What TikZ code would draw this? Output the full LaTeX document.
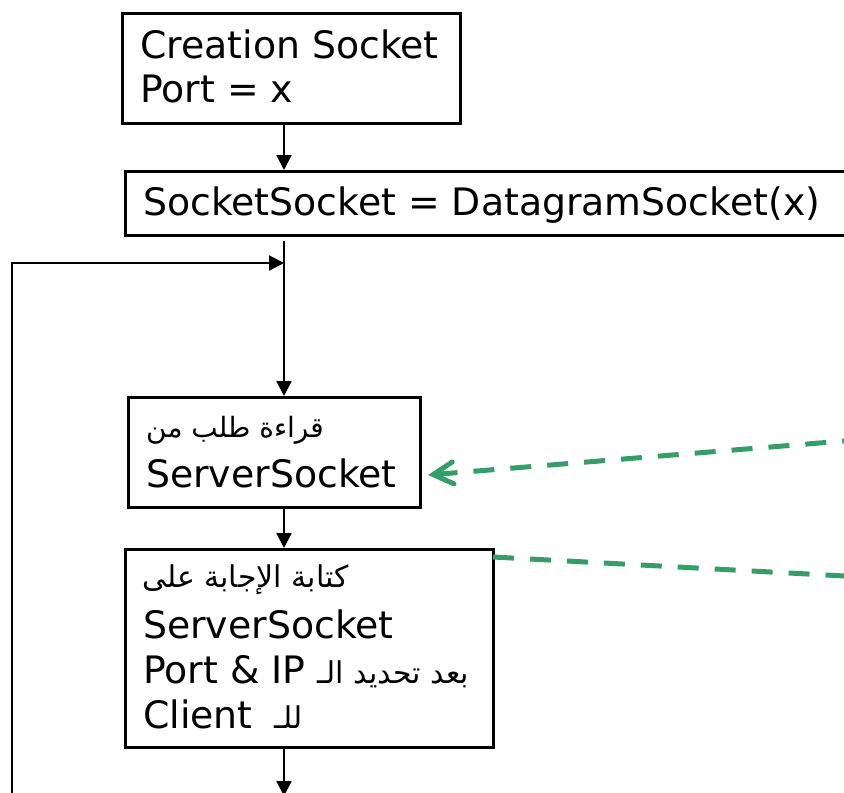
\documentclass[tikz,border=0pt]{standalone}
\usepackage{fontspec}
\setmainfont{DejaVu Sans}
\newfontfamily\arabicfont[Script=Arabic]{DejaVu Sans}
\TeXXeTstate=1
\usetikzlibrary{arrows.meta}
\definecolor{flowgreen}{RGB}{52,158,104}
\newcommand{\latinsize}{\fontsize{37.8}{44}\selectfont}
\newcommand{\arsize}{\fontsize{28}{32}\selectfont}
\newcommand{\arbigsize}{\fontsize{30}{34}\selectfont}
\tikzset{
  stepbox/.style={draw, line width=2.5pt, inner sep=0pt, anchor=north west},
  lbl/.style={anchor=base west, inner sep=0pt, font=\latinsize},
  arlbl/.style={anchor=base west, inner sep=0pt, font=\arsize\arabicfont},
  flow/.style={line width=2.2pt, -{Triangle[length=15pt,width=15pt]}},
  msg/.style={draw=flowgreen, line width=5pt, dash pattern=on 21pt off 16pt},
}
\begin{document}
\begin{tikzpicture}[x=1pt,y=-1pt]
\useasboundingbox (0,0) rectangle (844,793);
\clip (0,0) rectangle (844,793);

% boxes
\node[stepbox, minimum width=338pt, minimum height=110pt] (create) at (121,12) {};
\node[stepbox, minimum width=796pt, minimum height=64pt]  (sock)   at (124,170) {};
\node[stepbox, minimum width=292pt, minimum height=110pt] (read)   at (127,396) {};
\node[stepbox, minimum width=368pt, minimum height=198pt] (reply)  at (124,548) {};

% box texts
\node[lbl] (createa) at (140,58)  {Creation Socket};
\node[lbl] (createb) at (140,102) {Port = x};
\node[lbl] (socka)   at (143,215) {SocketSocket = DatagramSocket(x)};
\node[arlbl] (reada) at (146,437) {\beginR قراءة طلب من\endR};
\node[lbl] (readb)   at (146,487) {ServerSocket};
\node[arlbl, font=\arbigsize\arabicfont] (replya) at (142,587)
  {\beginR كتابة الإجابة على\endR};
\node[lbl] (replyb)  at (143,638) {ServerSocket};
\node[lbl] (replyc)  at (143,683) {Port \& IP {\arbigsize\arabicfont\beginR بعد تحديد الـ\endR}};
\node[lbl] (replyd)  at (143,728) {Client\hspace{22pt}{\arbigsize\arabicfont\beginR للـ\endR}};

% main flow
\coordinate (spine) at (284,0);
\coordinate (loopin) at (284,263);
\coordinate (loopbot) at (12,800);
\coordinate (exit) at (284,796);
\draw[flow] (create.south -| spine) -- (sock.north -| spine);
\draw[flow] ([yshift=-4pt]sock.south -| spine) -- (read.north -| spine);
\draw[flow] (read.south -| spine) -- (reply.north -| spine);
\draw[flow] (reply.south -| spine) -- (exit);
\draw[flow] (loopbot) |- (loopin);

% datagram exchange
\coordinate (reqsrc) at (900,436.4);
\coordinate (reqtip) at (428,475);
\coordinate (repout) at (493,557);
\coordinate (repdst) at (900,579);
\draw[msg, -{Straight Barb[length=20pt,width=22pt,line cap=round]}] (reqsrc) -- (reqtip);
\draw[msg] (repout) -- (repdst);
\end{tikzpicture}
\end{document}
